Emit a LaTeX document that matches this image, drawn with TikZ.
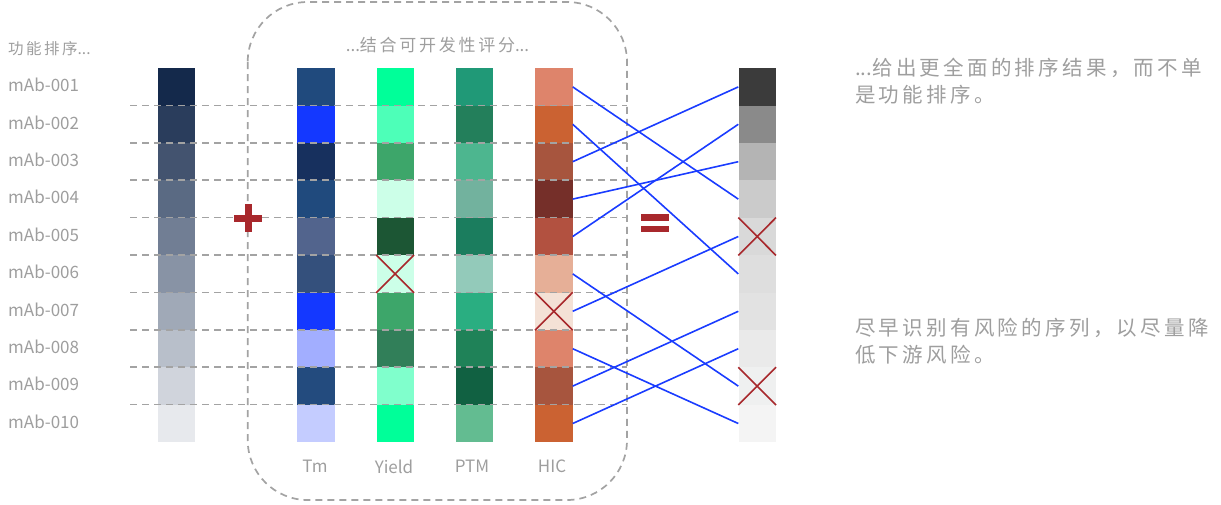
\documentclass[tikz,border=0pt]{standalone}
\usepackage{fontspec}
\setmainfont{Noto Sans CJK SC}
\newfontfamily\cjk[LetterSpace=16]{Noto Sans CJK SC}
\newcommand{\dts}{{\rmfamily...}}
\definecolor{txtgray}{HTML}{9E9E9E}
\definecolor{dashgray}{HTML}{A3A3A3}
\definecolor{linkblue}{HTML}{1A3CFF}
\definecolor{markred}{HTML}{A8282C}
\tikzset{
  cell/.style={draw=none, inner sep=0pt, minimum width=37.3pt, minimum height=37.4pt, anchor=north west},
  dashline/.style={draw=dashgray, line width=1.7pt, dash pattern=on 7pt off 5pt},
  link/.style={draw=linkblue, line width=1.6pt},
  xmark/.style={draw=markred, line width=1.6pt},
  lbl/.style={text=txtgray, inner sep=0pt, font=\fontsize{17}{20}\selectfont},
  cjklbl/.style={text=txtgray, inner sep=0pt},
}
\begin{document}
\begin{tikzpicture}[x=1pt,y=-1pt]
\useasboundingbox (0,0) rectangle (1221,504);
% columns of cells
\foreach \name/\xx/\cols in {
  fn/157.7/{14294B,2A3D5C,43536F,5A6A83,717E94,8893A5,A0A9B7,B8BFCA,D0D4DC,E7E9ED},
  tm/297/{204A7D,1438FF,17305E,204A7D,52648D,34507C,1438FF,A2AEFF,234B7E,C4CCFF},
  yield/376.3/{00FF99,4DFFB8,3DA66A,CCFFE8,1C5634,CCFFE8,3DA66A,317F59,80FFCC,00FF99},
  ptm/455.7/{209977,237F5B,4DB68F,72B29E,1B7D5E,93CABA,2AAE81,1F8258,116142,63BC91},
  hic/535/{DE846B,CB6232,A7553E,752F29,B25140,E6AF97,F4E1D6,DE846B,A7553E,CB6232},
  res/738.3/{3B3B3B,8A8A8A,B4B4B4,CBCBCB,D9D9D9,DEDEDE,E2E2E2,EAEAEA,EFF0F0,F4F4F4}}{
  \foreach \c [count=\i] in \cols {
    \definecolor{tmpc}{HTML}{\c}
    \node[cell, fill=tmpc] (\name-\i) at (\xx, {68+(\i-1)*37.4}) {};
  }
}
% dashed row separators
\foreach \i in {1,...,9} {
  \draw[dashline] (130, {68+\i*37.4}) -- (627, {68+\i*37.4});
}
% rounded dashed box
\draw[dashline, rounded corners=60pt] (247.7,2) rectangle (627,500);
% red crosses
\foreach \n in {yield-6, hic-7, res-5, res-9} {
  \draw[xmark] (\n.north west) -- (\n.south east) (\n.north east) -- (\n.south west);
}
% blue links
\foreach \a/\b in {1/4,2/6,3/1,4/3,5/2,6/9,7/5,8/10,9/7,10/8} {
  \draw[link] (hic-\a.east) -- (res-\b.west);
}
% plus and equals
\fill[markred] (234,214.5) rectangle (261.5,221.5);
\fill[markred] (244.5,204) rectangle (251.5,232);
\fill[markred] (641,214.3) rectangle (669,220.7);
\fill[markred] (641,225.7) rectangle (669,232.3);
% labels
\node[cjklbl, anchor=west, font=\cjk\fontsize{15.5}{18}\selectfont] (hdr1) at (8,48.5) {功能排序\dts};
\node[cjklbl, font=\cjk\fontsize{17}{20}\selectfont] (hdr2) at (437.5,45.5) {\dts 结合可开发性评分\dts};
\foreach \i in {1,...,9} {
  \node[lbl, anchor=west] (m\i) at (8, {85+(\i-1)*37.4}) {mAb-00\i};
}
\node[lbl, anchor=west] (m10) at (8, {85+9*37.4}) {mAb-010};
\node[lbl] (ltm) at (315,466.5) {Tm};
\node[lbl] (lyield) at (394,466.5) {Yield};
\node[lbl] (lptm) at (472,466.5) {PTM};
\node[lbl] (lhic) at (552,466.5) {HIC};
\node[cjklbl, anchor=west, font=\cjk\fontsize{20.5}{24}\selectfont] (r1a) at (855,67.5) {\dts 给出更全面的排序结果，而不单};
\node[cjklbl, anchor=west, font=\cjk\fontsize{20.5}{24}\selectfont] (r1b) at (855,95) {是功能排序。};
\node[cjklbl, anchor=west, font=\cjk\fontsize{20.5}{24}\selectfont] (r2a) at (855,327.5) {尽早识别有风险的序列，以尽量降};
\node[cjklbl, anchor=west, font=\cjk\fontsize{20.5}{24}\selectfont] (r2b) at (855,354.5) {低下游风险。};
\end{tikzpicture}
\end{document}
